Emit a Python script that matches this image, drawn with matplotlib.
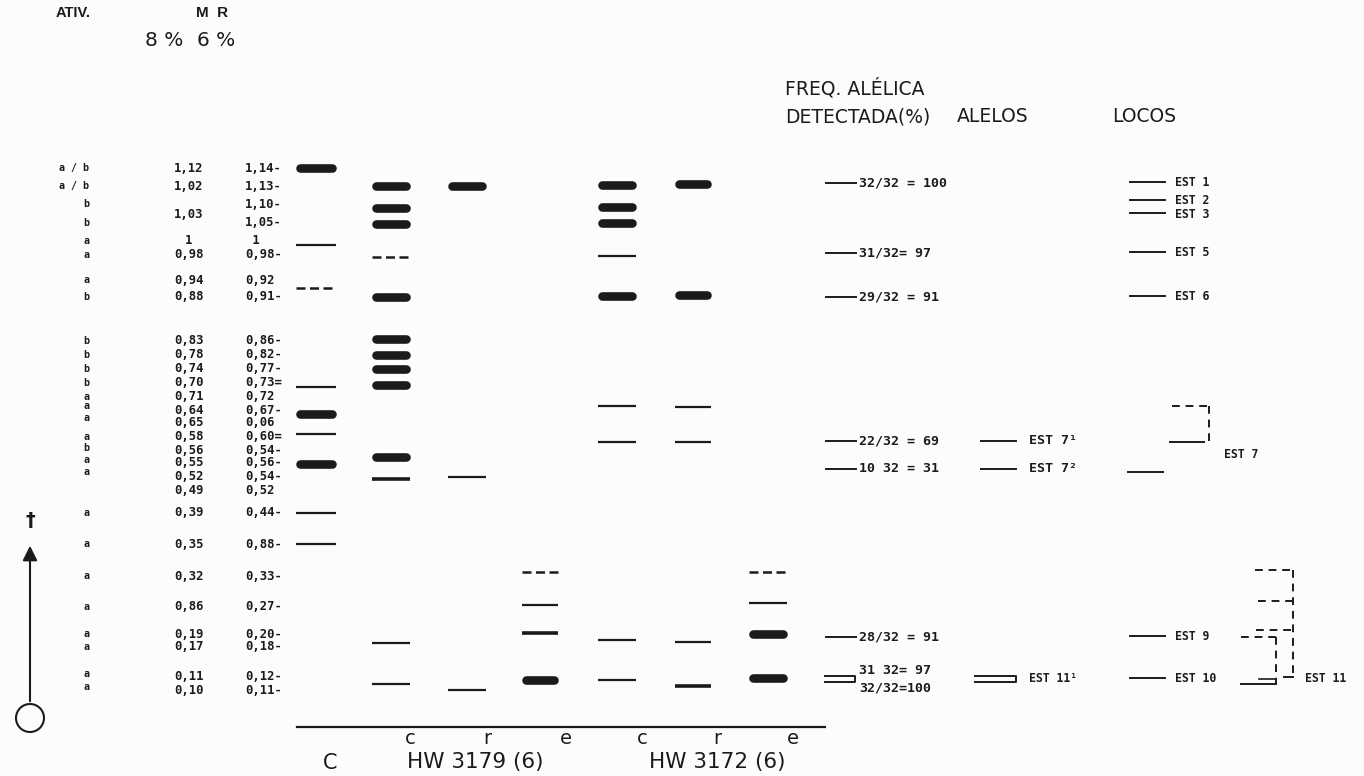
import numpy as np
import matplotlib.pyplot as plt
from matplotlib.patches import Circle

INK = '#1b1b1b'
PAPER = '#fcfcfa'
MONO = 'DejaVu Sans Mono'
SANS = 'DejaVu Sans'

# left block: mobility labels (row position on the gel, label text)
type_rows = [168, 186, 204, 223, 241, 255, 280, 297, 341, 355, 369, 383, 397,
             406, 418, 437, 448, 460, 472, 513, 544, 576, 607, 634, 647, 674, 687]
type_labels = ['a / b', 'a / b', 'b', 'b', 'a', 'a', 'a', 'b', 'b', 'b', 'b', 'b', 'a',
               'a', 'a', 'a', 'b', 'a', 'a', 'a', 'a', 'a', 'a', 'a', 'a', 'a', 'a']

rm8_rows = [168, 186, 214, 241, 255, 280, 297, 341, 355, 369, 383, 397, 410, 423,
            437, 450, 463, 477, 491, 513, 544, 576, 607, 634, 647, 677, 690]
rm8_labels = ['1,12', '1,02', '1,03', '1', '0,98', '0,94', '0,88', '0,83', '0,78',
              '0,74', '0,70', '0,71', '0,64', '0,65', '0,58', '0,56', '0,55', '0,52',
              '0,49', '0,39', '0,35', '0,32', '0,86', '0,19', '0,17', '0,11', '0,10']

rm6_rows = [168, 186, 204, 223, 241, 255, 280, 297, 341, 355, 369, 383, 397, 410,
            423, 437, 450, 463, 477, 491, 513, 544, 576, 607, 634, 647, 677, 690]
rm6_labels = ['1,14-', '1,13-', '1,10-', '1,05-', ' 1', '0,98-', '0,92', '0,91-',
              '0,86-', '0,82-', '0,77-', '0,73=', '0,72', '0,67-', '0,06', '0,60=',
              '0,54-', '0,56-', '0,54-', '0,52', '0,44-', '0,88-', '0,33-', '0,27-',
              '0,20-', '0,18-', '0,12-', '0,11-']

# bands per lane: position and intensity (k = strong, m = medium, t = weak, d = faint/dashed)
bands_C = [168, 245, 288, 387, 414, 434, 464, 513, 544]
kinds_C = ['k', 't', 'd', 't', 'k', 't', 'k', 't', 't']
bands_3179c = [186, 208, 224, 257, 297, 339, 355, 369, 385, 457, 479, 643, 684]
kinds_3179c = ['k', 'k', 'k', 'd', 'k', 'k', 'k', 'k', 'k', 'k', 'm', 't', 't']
bands_3179r = [186, 477, 690]
kinds_3179r = ['k', 't', 't']
bands_3179e = [572, 605, 633, 680]
kinds_3179e = ['d', 't', 'm', 'k']
bands_3172c = [185, 207, 223, 256, 296, 406, 442, 640, 680]
kinds_3172c = ['k', 'k', 'k', 't', 'k', 't', 't', 't', 't']
bands_3172r = [184, 295, 407, 442, 642, 686]
kinds_3172r = ['k', 'k', 't', 't', 't', 'm']
bands_3172e = [572, 603, 634, 678]
kinds_3172e = ['d', 't', 'k', 'k']

lane_bands = [bands_C, bands_3179c, bands_3179r, bands_3179e,
              bands_3172c, bands_3172r, bands_3172e]
lane_kinds = [kinds_C, kinds_3179c, kinds_3179r, kinds_3179e,
              kinds_3172c, kinds_3172r, kinds_3172e]
lane_tags = ['', 'c', 'r', 'e', 'c', 'r', 'e']

# right block: detected allele frequencies and loci
freq_rows = [183, 253, 297, 441, 469, 637]
freq_labels = ['32/32 = 100', '31/32= 97', '29/32 = 91', '22/32 = 69', '10 32 = 31', '28/32 = 91']
allele_rows = [441, 469]
allele_labels = ['EST 7\u00b9', 'EST 7\u00b2']
locus_rows = [183, 201, 214, 253, 297, 637, 679]
locus_labels = ['EST 1', 'EST 2', 'EST 3', 'EST 5', 'EST 6', 'EST 9', 'EST 10']

# layout
lane_x = [316, 391, 467, 540, 617, 693, 768]
half_w = [20, 19, 19, 18, 19, 18, 19]
tag_dx = [0, 19, 20, 26, 25, 24, 25]

fig = plt.figure(figsize=(13.64, 7.76), dpi=100, facecolor=PAPER)
ax = fig.add_axes([0, 0, 1, 1])
ax.set_xlim(0, 1364)
ax.set_ylim(776, 0)
ax.axis('off')
ax.set_facecolor(PAPER)


def band(xc, hw, y, kind):
    if kind == 'k':
        ax.plot([xc - hw + 4, xc + hw - 4], [y, y], color=INK, lw=6.2,
                solid_capstyle='round')
    elif kind == 'm':
        ax.plot([xc - hw, xc + hw], [y, y], color=INK, lw=2.6, solid_capstyle='butt')
    elif kind == 't':
        ax.plot([xc - hw, xc + hw], [y, y], color=INK, lw=1.6, solid_capstyle='butt')
    else:
        ax.plot([xc - hw, xc + hw], [y, y], color=INK, lw=1.8,
                linestyle=(0, (3.6, 1.8)), dash_capstyle='butt')


for xc, hw, ys, ks in zip(lane_x, half_w, lane_bands, lane_kinds):
    for y, k in zip(ys, ks):
        band(xc, hw, y, k)

# header, top left
ax.text(56, 13, 'ATIV.', fontsize=10.5, fontweight='bold', family='Liberation Sans',
        color=INK, va='center', ha='left')
ax.text(196, 13, 'M  R', fontsize=11, fontweight='bold', family='Liberation Sans',
        color=INK, va='center', ha='left')
ax.text(145, 41, '8 %', fontsize=14.5, family=SANS, color=INK, va='center', ha='left')
ax.text(197, 41, '6 %', fontsize=14.5, family=SANS, color=INK, va='center', ha='left')

lbl = dict(fontsize=8.8, fontweight='bold', family=MONO, color=INK, va='center')
for y, s in zip(type_rows, type_labels):
    ax.text(89, y, s, ha='right', **dict(lbl, fontsize=7.2))
for y, s in zip(rm8_rows, rm8_labels):
    ax.text(189, y, s, ha='center', **lbl)
for y, s in zip(rm6_rows, rm6_labels):
    ax.text(245, y, s, ha='left', **lbl)

# migration direction: origin circle and arrow towards the anode
ax.add_patch(Circle((30, 718), 14, fill=False, lw=1.5, color=INK))
ax.annotate('', xy=(30, 543), xytext=(30, 704),
            arrowprops=dict(arrowstyle='-|>', color=INK, lw=1.5, mutation_scale=22))
ax.text(30, 520, '\u2020', fontsize=14, fontweight='bold', family=SANS, color=INK,
        ha='center', va='center')

# baseline and lane captions
ax.plot([297, 825], [727, 727], color=INK, lw=1.6)
for xc, dx, t in zip(lane_x[1:], tag_dx[1:], lane_tags[1:]):
    ax.text(xc + dx, 738, t, fontsize=14, family=SANS, color=INK, ha='center', va='center')
ax.text(330, 763, 'C', fontsize=15, family=SANS, color=INK, ha='center', va='center')
ax.text(475, 762, 'HW 3179 (6)', fontsize=15.5, family=SANS, color=INK, ha='center', va='center')
ax.text(717, 762, 'HW 3172 (6)', fontsize=15.5, family=SANS, color=INK, ha='center', va='center')

# right block headers
hdr = dict(fontsize=13.5, family=SANS, color=INK, va='center', ha='left')
ax.text(785, 88, 'FREQ. ALÉLICA', **hdr)
ax.text(785, 117, 'DETECTADA(%)', **hdr)
ax.text(957, 117, 'ALELOS', **hdr)
ax.text(1112, 117, 'LOCOS', **hdr)

rlbl = dict(fontsize=9.5, fontweight='bold', family=MONO, color=INK, va='center', ha='left')
slbl = dict(rlbl, fontsize=8.3)
for y, s in zip(freq_rows, freq_labels):
    ax.plot([826, 856], [y, y], color=INK, lw=1.4)
    ax.text(859, y, s, **rlbl)
for y, s in zip(allele_rows, allele_labels):
    ax.plot([981, 1016], [y, y], color=INK, lw=1.4)
    ax.text(1029, y, s, **rlbl)
for y, s in zip(locus_rows, locus_labels):
    ax.plot([1130, 1165], [y - 1, y - 1], color=INK, lw=1.4)
    ax.text(1175, y, s, **slbl)

# EST 11 pair: two frequencies joined into one allele
y_hi, y_lo = 676, 682
ax.plot([825, 855, 855, 825], [y_hi, y_hi, y_lo, y_lo], color=INK, lw=1.4)
ax.text(859, 670, '31 32= 97', **rlbl)
ax.text(859, 688, '32/32=100', **rlbl)
ax.plot([975, 1016, 1016, 975], [y_hi, y_hi, y_lo, y_lo], color=INK, lw=1.4)
ax.text(1029, 679, 'EST 11\u00b9', **slbl)

# EST 7 locus bracket
dash = dict(color=INK, lw=1.4, linestyle=(0, (4, 3)))
y7a, y7b = bands_3172c[5], bands_3172c[6]
ax.plot([1172, 1209], [y7a, y7a], **dash)
ax.plot([1209, 1209], [y7a, y7b], **dash)
ax.plot([1170, 1204], [y7b, y7b], color=INK, lw=1.4)
ax.plot([1128, 1163], [472, 472], color=INK, lw=1.4)
ax.text(1224, 454, 'EST 7', **slbl)

# EST 11 locus bracket, joining the esterase bands of the e lanes
e_rows = [(a + b) / 2 for a, b in zip(bands_3179e, bands_3172e)]
ax.plot([1255, 1293], [e_rows[0] - 2, e_rows[0] - 2], **dash)
ax.plot([1258, 1293], [e_rows[1] - 3, e_rows[1] - 3], **dash)
ax.plot([1256, 1293], [e_rows[2] - 4, e_rows[2] - 4], **dash)
ax.plot([1293, 1293], [e_rows[0] - 2, e_rows[3] - 2], **dash)
ax.plot([1284, 1293], [e_rows[3] - 2, e_rows[3] - 2], color=INK, lw=1.4)
ax.plot([1241, 1276], [locus_rows[5], locus_rows[5]], **dash)
ax.plot([1276, 1276], [locus_rows[5], locus_rows[6] + 5], **dash)
ax.plot([1241, 1276], [locus_rows[6] + 5, locus_rows[6] + 5], color=INK, lw=1.4)
ax.plot([1259, 1276], [locus_rows[6], locus_rows[6]], color=INK, lw=1.2)
ax.text(1305, 678, 'EST 11', **slbl)

fig.savefig('out.png', dpi=100, facecolor=PAPER)
plt.close(fig)
